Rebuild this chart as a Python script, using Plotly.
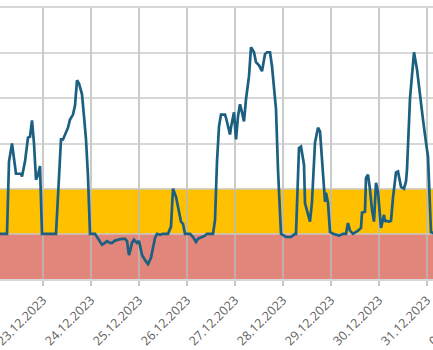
import pandas as pd
import plotly.graph_objects as go

# hours since 22.12.2023 00:00 and the measured value at each sample
hours = [0, 5.5, 6, 7, 8.5, 10.5, 12, 13, 13.5, 15, 16.5, 17.5, 18.5, 19.5, 20.5, 21.5, 22.5, 23.5,
         30.5, 33, 34, 35.5, 36.5, 37.5, 39, 40, 41, 42, 43.5, 44.5, 45.5, 46.5, 47.5,
         50, 51.5, 52.5, 53.5, 55, 56, 57.5, 58.5, 60, 61.5, 63.5, 65, 66, 67, 68.5, 69.5, 71, 72,
         73.5, 75, 76.5, 78, 79, 80, 81, 82.5, 84, 86.5, 88, 89, 90.5, 91.5, 93, 94, 95,
         97.5, 99, 100.5, 101.5, 103.5, 105, 106, 109, 110, 111, 112, 113, 115, 115.5, 117.5, 118,
         119.5, 120.5, 121.5, 122.5, 123.5, 124.5, 125.5, 127, 128, 129.5, 130.5, 132, 133.5, 135,
         136, 137.5, 138.5, 140, 140.5, 141.5, 142.5, 143, 145.5, 148, 150, 150.5, 152, 153, 154.5,
         155, 157.5, 158.5, 160, 161.5, 162.5, 164, 165, 165.5, 166.5, 167.5, 169, 172, 174, 175.5,
         176.5, 177.5, 179, 181.5, 183, 183.5, 185, 185.5, 186.5, 187.5, 188.5, 189.5, 190.5, 191.5,
         192.5, 193, 194.5, 195, 195.5, 197, 198, 199, 200.5, 201.5, 203, 204.5, 205.5, 206, 207.5,
         209.5, 211, 212.5, 214, 215.5, 216.5, 218, 220, 242.5]
values = [0, 0, 0, 1.6, 2.0, 1.33, 1.33, 1.33, 1.27, 1.6, 2.13, 2.15, 2.51, 2.0, 1.2, 1.3, 1.5, 0,
          0, 2.09, 2.09, 2.27, 2.35, 2.53, 2.64, 2.84, 3.4, 3.33, 3.09, 2.6, 2.09, 1.27, 0,
          0, -0.1, -0.18, -0.24, -0.2, -0.16, -0.2, -0.2, -0.15, -0.13, -0.11, -0.11, -0.16, -0.47,
          -0.2, -0.13, -0.2, -0.16, -0.47, -0.58, -0.67, -0.53, -0.31, -0.09, 0, -0.02, 0, 0, 0.16,
          1.0, 0.82, 0.58, 0.27, 0.22, 0, 0, -0.07, -0.18, -0.11, -0.07, -0.04, 0, 0, 0.3, 1.6,
          2.38, 2.64, 2.64, 2.57, 2.2, 2.36, 2.69, 2.09, 2.6, 2.87, 2.69, 2.49, 2.98, 3.49, 4.13,
          4.02, 3.8, 3.73, 3.6, 3.98, 4.02, 4.02, 3.71, 3.04, 2.76, 1.42, 0.47, 0, -0.07, -0.07, 0,
          0, 1.9, 1.93, 1.53, 0.68, 0.27, 0.71, 2.02, 2.35, 2.27, 1.3, 0.71, 0.91, 0.69, 0.04, 0,
          -0.04, 0, 0, 0.24, 0.07, 0, 0.07, 0.13, 0.47, 0.49, 1.24, 1.31, 0.98, 0.53, 0.27, 1.13,
          0.93, 0.42, 0.13, 0.42, 0.27, 0.29, 0.27, 0.29, 0.8, 1.36, 1.38, 1.04, 1.0, 1.16, 1.42,
          3.0, 4.02, 3.64, 3.04, 2.53, 2.02, 1.71, 0.04, 0, 0]

start = pd.Timestamp("2023-12-22 00:00")
times = start + pd.to_timedelta(hours, unit="h")

tick_dates = pd.date_range("2023-12-23", "2024-01-01", freq="D")
tick_labels = [d.strftime("%d.%m.%Y") for d in tick_dates]

x_start = start + pd.Timedelta(hours=2.5)
x_end = start + pd.Timedelta(hours=252.5)

fig = go.Figure()
fig.add_trace(go.Scatter(
    x=times, y=values, mode="lines",
    line=dict(color="#1b5f81", width=2.7),
    hoverinfo="skip", showlegend=False,
))

# coloured bands: amber 0..1, salmon -1..0
fig.add_shape(type="rect", xref="paper", x0=0, x1=1, yref="y", y0=0, y1=1,
              fillcolor="#ffc000", line_width=0, layer="below")
fig.add_shape(type="rect", xref="paper", x0=0, x1=1, yref="y", y0=-1, y1=0,
              fillcolor="#e2857b", line_width=0, layer="below")

fig.update_layout(
    width=500, height=350,
    margin=dict(l=0, r=0, t=8, b=71),
    plot_bgcolor="white", paper_bgcolor="white",
    font=dict(family="Open Sans, sans-serif", color="#5f5f5f"),
)
fig.update_xaxes(
    range=[x_start, x_end],
    tickvals=tick_dates, ticktext=tick_labels, tickangle=-45,
    tickfont=dict(size=12.5, color="#5f5f5f"),
    ticks="outside", ticklen=5, tickcolor="rgba(185,185,185,0.8)", tickwidth=2,
    ticklabelstandoff=2, ticklabeloverflow="allow",
    showgrid=True, gridcolor="rgba(185,185,185,0.75)", gridwidth=2,
    showline=True, mirror=True, linecolor="rgba(205,205,205,0.8)", linewidth=2,
    zeroline=False, automargin=False,
)
fig.update_yaxes(
    range=[-1, 5], dtick=1, showticklabels=False,
    showgrid=True, gridcolor="rgba(200,200,200,0.7)", gridwidth=2,
    zeroline=False, showline=False, automargin=False,
)

fig.write_html("out.html", post_script="document.body.style.overflow='hidden';")
